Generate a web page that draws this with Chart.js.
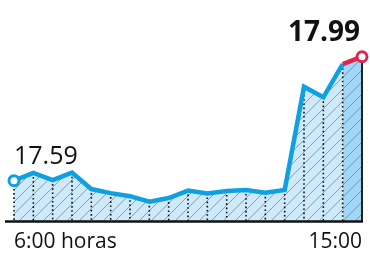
<!DOCTYPE html>
<html>
<head>
<meta charset="utf-8">
<script src="https://cdn.jsdelivr.net/npm/chart.js@4"></script>
<style>
  html, body { margin: 0; padding: 0; background: #fff; }
  .wrap { width: 370px; height: 255px; position: relative; }
</style>
</head>
<body>
<div class="wrap"><canvas id="myChart"></canvas></div>
<script>
const times = ["6:00", "6:30", "7:00", "7:30", "8:00", "8:30", "9:00", "9:30", "10:00", "10:30",
  "11:00", "11:30", "12:00", "12:30", "13:00", "13:30", "14:00", "14:30", "15:00"];
const prices = [17.59, 17.615, 17.592, 17.616, 17.563, 17.55, 17.54, 17.522, 17.534, 17.558,
  17.549, 17.557, 17.56, 17.551, 17.56, 17.893, 17.859, 17.966, 17.99];
const tickLabels = ["6:00 horas", "15:00"];
const firstLabel = "17.59";
const lastLabel = "17.99";

const blue = "#0ea0e2";
const red = "#e0244e";
const lastIdx = prices.length - 1;

function hatchPattern() {
  let c = document.createElement("canvas");
  c.width = 12;
  c.height = 12;
  let g = c.getContext("2d");
  g.strokeStyle = "rgba(90,110,125,0.75)";
  g.lineWidth = 0.8;
  g.beginPath();
  g.moveTo(-1, 13); g.lineTo(13, -1);
  g.moveTo(-7, 7); g.lineTo(7, -7);
  g.moveTo(5, 19); g.lineTo(19, 5);
  g.stroke();
  return g.createPattern(c, "repeat");
}

// hatch, dotted lines, edges and the two value labels
const extras = {
  id: "extras",
  beforeDatasetDraw(chart, args) {
    if (args.index !== 0) return;
    const ctx = chart.ctx;
    const area = chart.chartArea;
    const pts = chart.getDatasetMeta(0).data;
    ctx.save();
    ctx.beginPath();
    ctx.moveTo(pts[0].x, area.bottom);
    pts.forEach(p => ctx.lineTo(p.x, p.y));
    ctx.lineTo(pts[lastIdx].x, area.bottom);
    ctx.closePath();
    ctx.fillStyle = hatchPattern();
    ctx.fill();
    ctx.strokeStyle = "#111";
    ctx.lineWidth = 1.6;
    ctx.setLineDash([1.6, 2.6]);
    for (let i = 0; i < lastIdx; i++) {
      ctx.beginPath();
      ctx.moveTo(pts[i].x, pts[i].y + 4);
      ctx.lineTo(pts[i].x, area.bottom);
      ctx.stroke();
    }
    ctx.setLineDash([]);
    ctx.strokeStyle = "#222";
    ctx.lineWidth = 2;
    ctx.beginPath();
    ctx.moveTo(pts[lastIdx].x, pts[lastIdx].y);
    ctx.lineTo(pts[lastIdx].x, area.bottom);
    ctx.stroke();
    ctx.strokeStyle = "#111";
    ctx.lineWidth = 2.5;
    ctx.beginPath();
    ctx.moveTo(5, area.bottom + 0.5);
    ctx.lineTo(pts[lastIdx].x + 1, area.bottom + 0.5);
    ctx.stroke();
    ctx.restore();
  },
  afterDraw(chart) {
    const ctx = chart.ctx;
    const pts = chart.getDatasetMeta(0).data;
    ctx.save();
    ctx.fillStyle = "#111";
    ctx.textBaseline = "alphabetic";
    ctx.textAlign = "left";
    ctx.font = "25px 'Open Sans'";
    ctx.fillText(firstLabel, pts[0].x, pts[0].y - 17);
    ctx.textAlign = "right";
    ctx.font = "bold 28px 'Open Sans'";
    ctx.fillText(lastLabel, pts[lastIdx].x - 2, 41);
    ctx.restore();
  }
};

const ctx1 = document.getElementById("myChart").getContext("2d");
const myChart = new Chart(ctx1, {
  type: "line",
  data: {
    labels: times,
    datasets: [
      {
        data: prices,
        borderColor: blue,
        borderWidth: 4.5,
        borderJoinStyle: "miter",
        tension: 0,
        fill: "start",
        backgroundColor: "#cde9fa",
        clip: false,
        segment: {
          borderColor: c => c.p1DataIndex === lastIdx ? red : blue,
          backgroundColor: c => c.p1DataIndex === lastIdx ? "#a2d6f6" : "#cde9fa",
        },
        pointRadius: prices.map((v, i) => (i === 0 || i === lastIdx) ? 5 : 0),
        pointBorderWidth: 3,
        pointBackgroundColor: "#fff",
        pointBorderColor: prices.map((v, i) => i === lastIdx ? red : blue),
      },
    ],
  },
  options: {
    responsive: true,
    maintainAspectRatio: false,
    animation: false,
    layout: { autoPadding: false, padding: { left: 14, right: 5, top: 0, bottom: 0 } },
    plugins: { legend: { display: false }, tooltip: { enabled: false } },
    scales: {
      x: {
        grid: { display: false, drawTicks: false },
        border: { display: false },
        afterFit(scale) { scale.height = 34; },
        ticks: {
          autoSkip: false,
          maxRotation: 0,
          align: "inner",
          padding: 8,
          color: "#111",
          font: { family: "'Open Sans'", size: 21 },
          callback: (v, i) => i === 0 ? tickLabels[0] : (i === lastIdx ? tickLabels[1] : ""),
        },
      },
      y: {
        display: false,
        min: 17.46,
        max: 18.173,
      },
    },
  },
  plugins: [extras],
});
</script>
</body>
</html>
